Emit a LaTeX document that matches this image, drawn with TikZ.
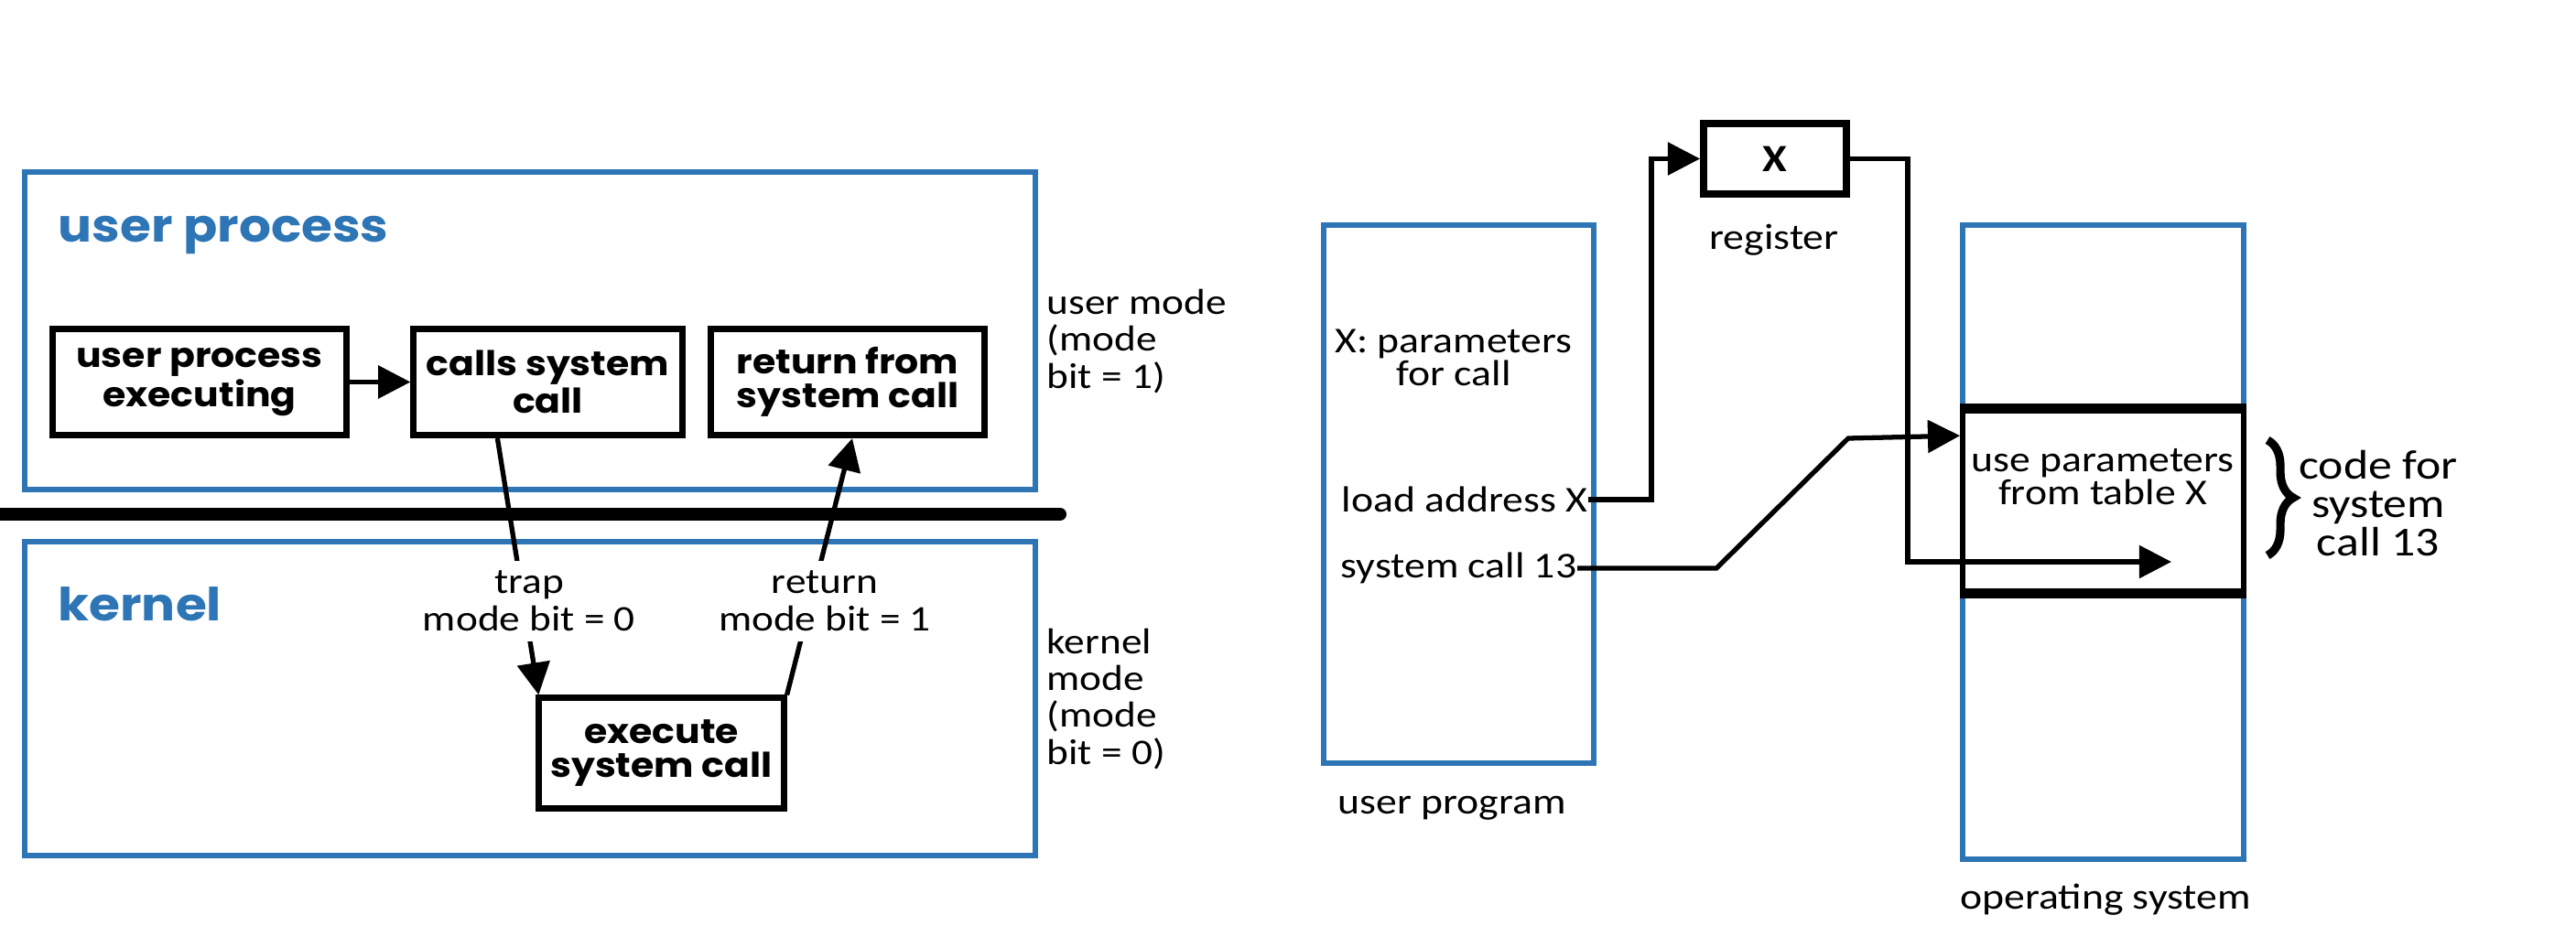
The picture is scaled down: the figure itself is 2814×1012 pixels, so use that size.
\documentclass[tikz,border=0pt]{standalone}
\usepackage{fontspec}
\setmainfont{Carlito}[FakeStretch=1.15]
\newfontfamily\gothic{Poppins}[FakeStretch=1.1]
\usetikzlibrary{arrows.meta,decorations.pathreplacing,calc}
\definecolor{sbblue}{RGB}{46,117,182}
\begin{document}
\begin{tikzpicture}[x=0.01cm,y=-0.01cm,
  blueframe/.style={draw=sbblue,line width=1.8pt,inner sep=0pt},
  procbox/.style={draw,line width=2pt,inner sep=0pt,align=center,fill=white,
    font=\gothic\bfseries\fontsize{10.6}{10.6}\selectfont},
  titletext/.style={inner sep=0pt,text=sbblue,font=\gothic\bfseries\fontsize{14.2}{15}\selectfont},
  leftlab/.style={inner sep=3pt,align=center,fill=white,font=\fontsize{11.2}{11.6}\selectfont},
  sidelab/.style={inner sep=0pt,align=left,font=\fontsize{11.2}{11.4}\selectfont},
  rightlab/.style={inner sep=0pt,align=center,font=\fontsize{11.3}{10.2}\selectfont},
  codelab/.style={inner sep=0pt,align=center,font=\fontsize{12.8}{12}\selectfont},
  conn/.style={line width=1.5pt},
  witharrow/.style={-{Triangle[length=10pt,width=10pt]}}
]
\useasboundingbox (0,0) rectangle (2814,1012);

% ---------- left panel ----------
\node[blueframe,minimum width=11.04cm,minimum height=3.47cm] (upframe) at (579,361.5) {};
\node[blueframe,minimum width=11.04cm,minimum height=3.43cm] (kframe) at (579,763.5) {};
\node[titletext,anchor=west] (uptitle) at (63,257) {user process};
\node[titletext,anchor=west] (ktitle) at (63,660) {kernel};
\draw[line width=4pt,line cap=round] (0,562) -- (1158,562);

\node[procbox,minimum width=3.21cm,minimum height=1.16cm] (upexec) at (218,417.5) {user process\\executing};
\node[procbox,minimum width=2.93cm,minimum height=1.16cm] (calls) at (598.5,417.5) {calls system\\call};
\node[procbox,minimum width=2.98cm,minimum height=1.16cm] (ret) at (926,417.5) {return from\\system call};
\node[procbox,minimum width=2.67cm,minimum height=1.20cm] (exec) at (722.5,823) {execute\\system call};

\draw[conn,witharrow] (upexec.east) -- (calls.west);
\coordinate (t1) at ($(calls.south west)+(95,0)$);
\coordinate (t2) at ($(exec.north west)+(3,0)$);
\draw[conn,witharrow] (t1) -- (t2);
\coordinate (r2) at ($(ret.south)+(5,0)$);
\draw[conn,witharrow] (exec.north east) -- (r2);
\node[leftlab] (traplab) at (578,657) {trap\\mode bit = 0};
\node[leftlab] (retlab) at (901,657) {return\\mode bit = 1};

\node[sidelab,anchor=west] (umode) at (1143,373) {user mode\\(mode\\bit = 1)};
\node[sidelab,anchor=west] (kmode) at (1143,764) {kernel\\mode\\(mode\\bit = 0)};

% ---------- right panel ----------
\node[blueframe,minimum width=2.95cm,minimum height=5.88cm] (uprog) at (1593.5,540) {};
\node[blueframe,minimum width=3.07cm,minimum height=6.93cm] (os) at (2297.5,592.5) {};
\node[draw,line width=1.6pt,fill=white,inner sep=0pt,minimum width=3.07cm,minimum height=1.97cm] (code) at (2297.5,547.5) {};
\draw[line width=3pt] (code.north west) -- (code.north east);
\draw[line width=3pt] (code.south west) -- (code.south east);
\node[rightlab] (usep) at (2297,521) {use parameters\\from table X};

\node[draw,line width=2.2pt,inner sep=0pt,minimum width=1.56cm,minimum height=0.77cm,
  font=\bfseries\fontsize{12}{12}\selectfont] (reg) at (1939,173.5) {X};
\node[rightlab] (reglab) at (1938,262) {register};

\node[rightlab] (xpar) at (1588,391) {X: parameters\\for call};
\node[rightlab,anchor=east] (ldx) at (1735,546) {load address X};
\node[rightlab,anchor=east] (sc) at (1723,621) {system call 13};
\node[rightlab] (uplab) at (1586,883) {user program};
\node[rightlab] (oslab) at (2300,983) {operating system};

\draw[conn,witharrow] (ldx.east) -- ++(69,0) |- (reg.west);
\coordinate (codetip) at (2372,614);
\draw[conn,witharrow] (reg.east) -- ++(63,0) |- (codetip);
\coordinate (scin) at ($(code.north west)+(0,30)$);
\draw[conn,witharrow] (sc.east) -- ++(152,0) -- ++(144,-142) -- (scin);

\draw[line width=2.6pt,decorate,decoration={brace,amplitude=8pt}] (2477,481) -- (2477,607);
\node[codelab] (codefor) at (2598,550) {code for\\system\\call 13};
\end{tikzpicture}
\end{document}
